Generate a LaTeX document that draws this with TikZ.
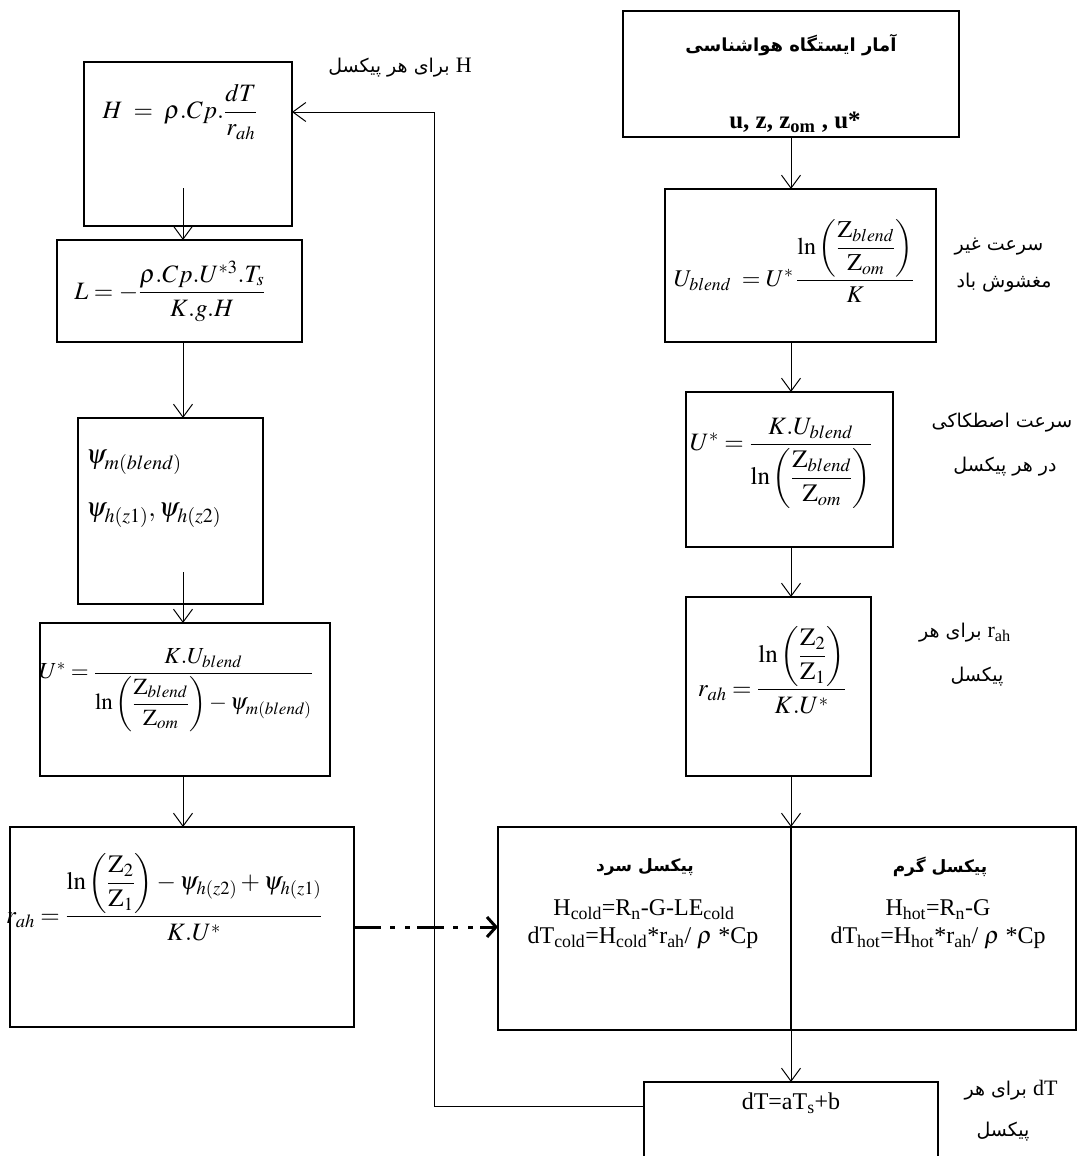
\RequirePackage{fix-cm}
\documentclass[tikz,border=0pt]{standalone}
\usepackage{amsmath}
\usepackage{mathptmx}
\usepackage{fontspec}
\setmainfont{Liberation Serif}
\newfontfamily\farsi[Script=Arabic]{DejaVu Sans}
\TeXXeTstate=1
\usetikzlibrary{arrows.meta}

\tikzset{
  box/.style={draw, line width=1.6pt, inner sep=0pt, outer sep=0pt},
  flow/.style={line width=1pt, -{Straight Barb[length=13pt, width=19pt, line width=1pt]}},
  eq/.style={font=\fontsize{25}{30}\selectfont, inner sep=0pt},
  txt/.style={font=\fontsize{24}{28}\selectfont, inner sep=0pt},
  fa/.style={font=\fontsize{19}{23}\selectfont\farsi, inner sep=0pt},
  fab/.style={font=\fontsize{17}{20}\selectfont\farsi\bfseries, inner sep=0pt},
}

\begin{document}
\begin{tikzpicture}[x=1pt, y=-1pt]
  \useasboundingbox (0,0) rectangle (1078,1156);
  \clip (0,0) rectangle (1078,1156);

  % RIGHT COLUMN: station data down to dT
  \node[box, minimum width=336pt, minimum height=126pt] (stat) at (791,74) {};
  \node[box, minimum width=271pt, minimum height=153pt] (ublend) at (800.5,265.5) {};
  \node[box, minimum width=207pt, minimum height=155pt] (ustar) at (789.5,469.5) {};
  \node[box, minimum width=185pt, minimum height=179pt] (rah) at (778.5,686.5) {};
  \node[box, minimum width=578pt, minimum height=203pt] (pixbox) at (787,928.5) {};
  \node[box, minimum width=294pt, minimum height=93pt] (dtbox) at (791,1128.5) {};
  \draw[line width=1.6pt] (stat.south |- pixbox.north) -- (stat.south |- pixbox.south);

  \node[fab, font=\fontsize{18}{21}\selectfont\farsi\bfseries] (statT) at (791,45) {\beginR آمار ایستگاه هواشناسی\endR};
  \node[txt, font=\fontsize{25}{28}\selectfont\bfseries] (statV) at (795,122) {u, z, z\textsubscript{om} , u*};
  \node[eq, font=\fontsize{24}{29}\selectfont] (ublendF) at (794,261)
    {$U_{blend}\; = U^{*}\,\dfrac{\ln\left(\dfrac{\mathrm{Z}_{blend}}{\mathrm{Z}_{om}}\right)}{K}$};
  \node[eq] (ustarF) at (781,463)
    {$U^{*} = \dfrac{K.U_{blend}\rule[-6pt]{0pt}{0pt}}{\ln\left(\dfrac{\mathrm{Z}_{blend}}{\mathrm{Z}_{om}}\right)}$};
  \node[eq] (rahF) at (772,670)
    {$r_{ah} = \dfrac{\ln\left(\dfrac{\mathrm{Z}_{2}}{\mathrm{Z}_{1}}\right)}{K.U^{*}}$};

  % cold / hot pixels
  \node[fab] (coldT) at (645,867) {\beginR پیکسل سرد\endR};
  \node[txt] (coldH) at (644,910) {H\textsubscript{cold}=R\textsubscript{n}-G-LE\textsubscript{cold}};
  \node[txt] (coldD) at (643,938) {dT\textsubscript{cold}=H\textsubscript{cold}*r\textsubscript{ah}/ $\rho$ *Cp};
  \node[fab] (hotT) at (940,867) {\beginR پیکسل گرم\endR};
  \node[txt] (hotH) at (938,910) {H\textsubscript{hot}=R\textsubscript{n}-G};
  \node[txt] (hotD) at (938,938) {dT\textsubscript{hot}=H\textsubscript{hot}*r\textsubscript{ah}/ $\rho$ *Cp};
  \node[txt] (dtF) at (791,1103) {dT=aT\textsubscript{s}+b};

  % side notes
  \node[fa] (noteA1) at (999,247) {\beginR سرعت غیر\endR};
  \node[fa] (noteA2) at (1004,283) {\beginR مغشوش باد\endR};
  \node[fa] (noteB1) at (1002,423) {\beginR سرعت اصطکاکی\endR};
  \node[fa] (noteB2) at (1005,467) {\beginR در هر پیکسل\endR};
  \node[fa] (noteC1) at (965,633) {\beginR\beginL{\rmfamily\fontsize{22}{26}\selectfont r\textsubscript{ah}}\endL{} برای هر\endR};
  \node[fa] (noteC2) at (977,677) {\beginR پیکسل\endR};
  \node[fa] (noteD1) at (1011,1090) {\beginR\beginL{\rmfamily\fontsize{22}{26}\selectfont dT}\endL{} برای هر\endR};
  \node[fa] (noteD2) at (1003,1132) {\beginR پیکسل\endR};
  \node[fa] (noteH) at (400,68) {\beginR{\rmfamily\fontsize{22}{26}\selectfont H} برای هر پیکسل\endR};

  % LEFT COLUMN: H down to r_ah
  \node[box, minimum width=208pt, minimum height=164pt] (hbox) at (188,144) {};
  \node[box, minimum width=245pt, minimum height=102pt] (lbox) at (179.5,291) {};
  \node[box, minimum width=185pt, minimum height=186pt] (psibox) at (170.5,511) {};
  \node[box, minimum width=290pt, minimum height=153pt] (ustarL) at (185,699.5) {};
  \node[box, minimum width=344pt, minimum height=200pt] (rahL) at (182,927) {};

  \node[eq] (hF) at (180,112) {$H \;=\; \rho.Cp.\dfrac{dT}{r_{ah}}$};
  \node[eq] (lF) at (170,291) {$L = -\dfrac{\rho.Cp.U^{*3}.T_{s}}{K.g.H}$};
  \node[eq, font=\fontsize{27}{32}\selectfont, anchor=west] (psiA) at (86,462) {$\psi_{m(blend)}$};
  \node[eq, font=\fontsize{27}{32}\selectfont, anchor=west] (psiB) at (86,515) {$\psi_{h(z1)},\psi_{h(z2)}$};
  \node[eq, font=\fontsize{23}{28}\selectfont, anchor=west] (ustarLF) at (39,690)
    {$U^{*} = \dfrac{K.U_{blend}\rule[-6pt]{0pt}{0pt}}{\ln\left(\dfrac{\mathrm{Z}_{blend}}{\mathrm{Z}_{om}}\right) - \psi_{m(blend)}}$};
  \node[eq, anchor=west] (rahLF) at (6,897)
    {$r_{ah} = \dfrac{\ln\left(\dfrac{\mathrm{Z}_{2}}{\mathrm{Z}_{1}}\right) - \psi_{h(z2)} + \psi_{h(z1)}}{K.U^{*}}$};

  % arrows
  \coordinate (lcol) at (183,0);
  \coordinate (hstart) at (183,188);
  \coordinate (psistart) at (183,572);
  \foreach \a/\b in {stat/ublend, ublend/ustar, ustar/rah, rah/pixbox, pixbox/dtbox}
    \draw[flow] (stat.south |- \a.south) -- (stat.south |- \b.north);
  \foreach \a/\b in {lbox/psibox, ustarL/rahL}
    \draw[flow] (lcol |- \a.south) -- (lcol |- \b.north);
  \draw[flow] (hstart) -- (lcol |- lbox.north);
  \draw[flow] (psistart) -- (lcol |- ustarL.north);

  % feedback of dT to H
  \coordinate (fbtop) at (434,112);
  \draw[flow] ([yshift=22pt]dtbox.west) -| (fbtop) -- (hbox.east |- fbtop);

  % r_ah to cold/hot pixels
  \draw[line width=3pt, dash pattern=on 27pt off 9pt on 5pt off 10pt on 5pt off 7pt,
        -{Straight Barb[length=9pt, width=20pt, line width=3pt]}]
    (rahL.east) -- (rahL.east -| pixbox.west);
\end{tikzpicture}
\end{document}
